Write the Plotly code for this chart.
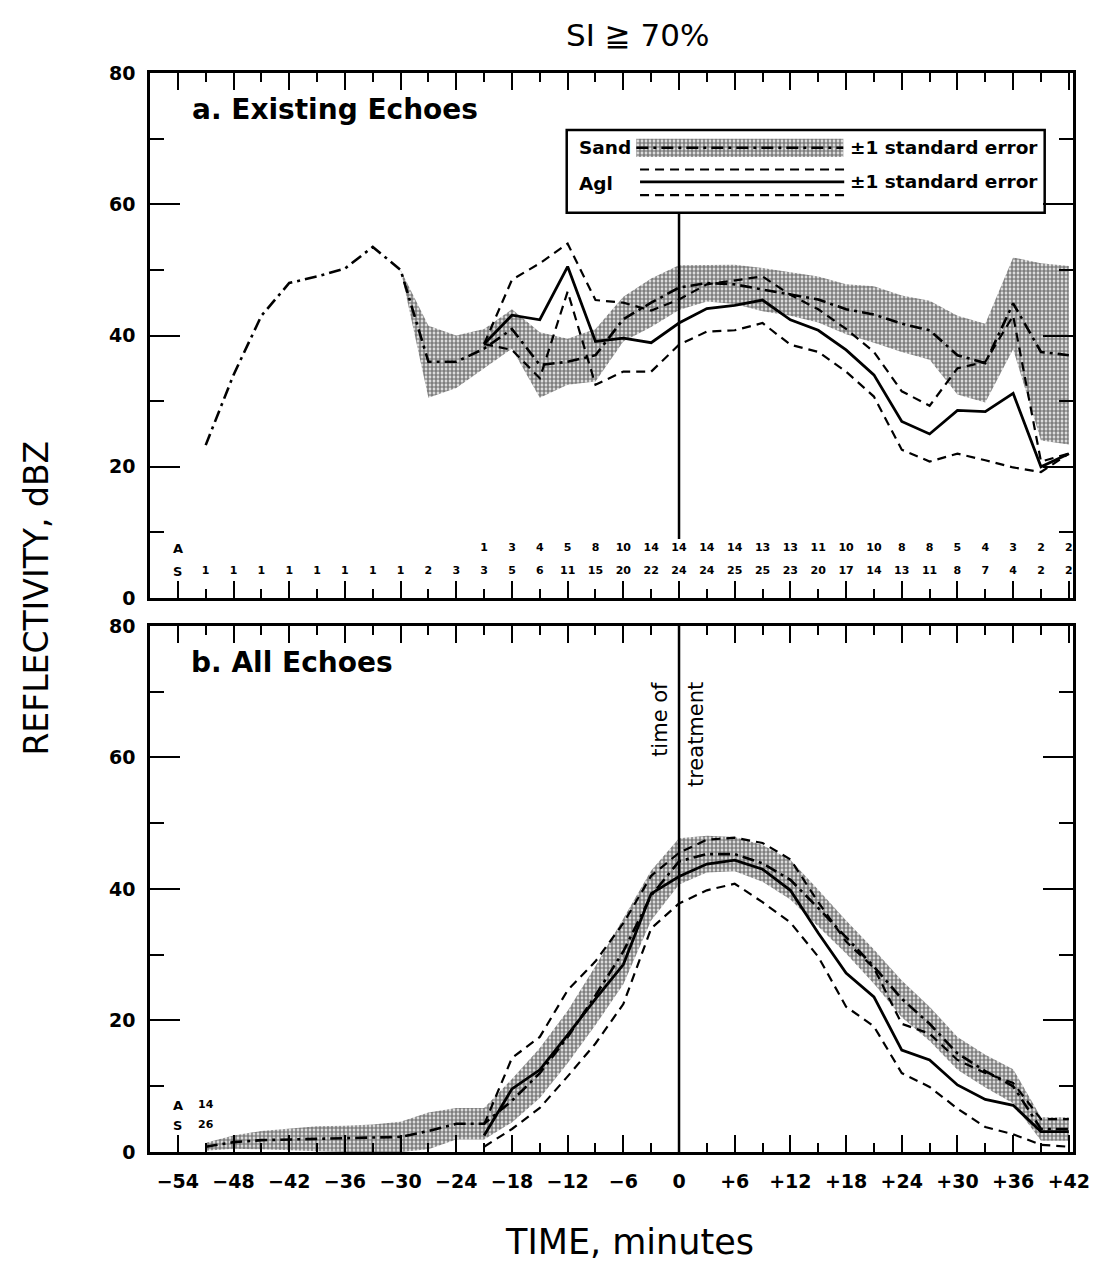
import plotly.graph_objects as go

# ---------------- data ----------------
T = [-51, -48, -45, -42, -39, -36, -33, -30, -27, -24, -21, -18, -15, -12, -9, -6,
     -3, 0, 3, 6, 9, 12, 15, 18, 21, 24, 27, 30, 33, 36, 39, 42]
T_AGL = [-21, -18, -15, -12, -9, -6, -3, 0, 3, 6, 9, 12, 15, 18, 21, 24, 27, 30, 33, 36, 39, 42]

S_counts = [1, 1, 1, 1, 1, 1, 1, 1, 2, 3, 3, 5, 6, 11, 15, 20, 22, 24, 24, 25, 25, 23,
            20, 17, 14, 13, 11, 8, 7, 4, 2, 2]
A_counts = [1, 3, 4, 5, 8, 10, 14, 14, 14, 14, 13, 13, 11, 10, 10, 8, 8, 5, 4, 3, 2, 2]

# panel a: existing echoes
sand_a = [23.3, 34, 43, 48, 49, 50.2, 53.5, 50, 36, 36, 38, 41, 35.5, 36, 37, 42.5,
          45, 47.3, 48, 47.8, 47, 46.3, 45.5, 44, 43.2, 41.8, 40.8, 37, 35.8, 44.9, 37.5, 37]
sand_a_se = [None, None, None, None, None, None, None, 0, 5.5, 4, 3, 3, 5, 3.5, 4, 3.4,
             3.7, 3.4, 2.8, 3, 3.3, 3.3, 3.5, 3.8, 4.3, 4.3, 4.5, 6, 6, 7, 13.5, 13.6]
agl_a = [38.7, 43.1, 42.4, 50.5, 39.1, 39.6, 38.9, 41.9, 44.1, 44.6, 45.4, 42.4, 40.8,
         37.8, 34.0, 26.9, 25.0, 28.6, 28.4, 31.2, 20.0, 22.0]
agl_a_lo = [38.7, 37.8, 33.5, 46.7, 32.5, 34.5, 34.5, 38.6, 40.6, 40.8, 41.9, 38.6, 37.5,
            34.5, 30.7, 22.6, 20.8, 22.0, 21.0, 19.9, 19.2, 22.0]
agl_a_hi = [38.7, 48.5, 51.0, 54.0, 45.4, 45.0, 43.8, 45.5, 47.8, 48.4, 49.0, 46.2, 44.0,
            41.0, 37.5, 31.5, 29.3, 35.0, 36.0, 43.0, 20.8, 22.0]

# panel b: all echoes
sand_b = [0.8, 1.5, 1.8, 1.9, 2.0, 2.0, 2.1, 2.3, 3.2, 4.3, 4.3, 7.8, 12.0, 17.5, 23.8,
          30.5, 39.0, 44.2, 45.3, 45.3, 43.9, 41.4, 37.1, 32.7, 28.2, 23.3, 19.5, 15.0,
          12.3, 10.0, 3.5, 3.5]
sand_b_se = [0.6, 1.0, 1.4, 1.7, 1.9, 2.0, 2.1, 2.3, 2.8, 2.4, 2.4, 3.3, 3.8, 4.0, 4.5,
             5.0, 3.8, 3.5, 2.8, 2.6, 2.8, 3.0, 2.8, 2.5, 2.6, 2.8, 2.6, 2.5, 2.5, 2.6,
             1.8, 1.8]
agl_b = [2.5, 9.6, 12.5, 17.8, 23.3, 28.5, 39.3, 41.9, 43.8, 44.4, 43.0, 39.8, 33.3,
         27.2, 23.6, 15.5, 14.0, 10.2, 8.0, 7.1, 3.1, 3.1]
agl_b_lo = [0.8, 3.5, 6.7, 11.5, 16.5, 22.5, 34.0, 37.8, 39.8, 40.8, 38.0, 34.9, 29.7,
            22.1, 19.1, 12.0, 9.9, 6.6, 3.8, 2.7, 1.1, 0.8]
agl_b_hi = [4.2, 14.3, 17.5, 24.6, 29.0, 34.8, 42.0, 45.5, 47.5, 47.8, 47.0, 44.5, 38.0,
            32.0, 28.0, 19.5, 18.0, 14.0, 12.0, 10.5, 5.0, 5.0]

total_A, total_S = 14, 26

x_major = list(range(-54, 43, 6))
x_minor = list(range(-51, 42, 6))
x_ticktext = [("\u2212" + str(-v)) if v < 0 else ("+" + str(v) if v > 0 else "0") for v in x_major]
y_major = [0, 20, 40, 60, 80]
y_minor = [10, 30, 50, 70]

# ---------------- styles ----------------
FONT = "DejaVu Sans"
BLACK = "black"
PATTERN = dict(shape=".", size=4, solidity=0.7, fgcolor=BLACK, bgcolor="rgba(0,0,0,0)")
SAND_DASH = "12px,5px,3px,5px"
AGL_DASH = "9px,6px"

fig = go.Figure()


def band(xs, mean, se, xa, ya):
    pts = [(x, m, s) for x, m, s in zip(xs, mean, se) if s is not None]
    bx = [p[0] for p in pts]
    hi = [p[1] + p[2] for p in pts]
    lo = [p[1] - p[2] for p in pts]
    fig.add_trace(go.Scatter(x=bx, y=hi, mode="lines", line=dict(width=0, color=BLACK),
                             xaxis=xa, yaxis=ya, showlegend=False, hoverinfo="skip"))
    fig.add_trace(go.Scatter(x=bx, y=lo, mode="lines", line=dict(width=0, color=BLACK),
                             fill="tonexty", fillcolor="rgba(0,0,0,0)", fillpattern=PATTERN,
                             xaxis=xa, yaxis=ya, showlegend=False, hoverinfo="skip"))


def lines(sand, lo, hi, agl, xa, ya):
    fig.add_trace(go.Scatter(x=T, y=sand, mode="lines", name="Sand",
                             line=dict(color=BLACK, width=2.6, dash=SAND_DASH),
                             xaxis=xa, yaxis=ya, showlegend=False))
    for arr in (lo, hi):
        fig.add_trace(go.Scatter(x=T_AGL, y=arr, mode="lines",
                                 line=dict(color=BLACK, width=2.2, dash=AGL_DASH),
                                 xaxis=xa, yaxis=ya, showlegend=False))
    fig.add_trace(go.Scatter(x=T_AGL, y=agl, mode="lines", name="Agl",
                             line=dict(color=BLACK, width=2.8),
                             xaxis=xa, yaxis=ya, showlegend=False))


band(T, sand_a, sand_a_se, "x", "y")
lines(sand_a, agl_a_lo, agl_a_hi, agl_a, "x", "y")
band(T, sand_b, sand_b_se, "x2", "y2")
lines(sand_b, agl_b_lo, agl_b_hi, agl_b, "x2", "y2")

# count rows
cnt_font = dict(family=FONT, size=11, color=BLACK, weight="bold")
fig.add_trace(go.Scatter(x=T_AGL, y=[7.6] * len(T_AGL), mode="text", text=[str(v) for v in A_counts],
                         textfont=cnt_font, xaxis="x", yaxis="y", showlegend=False, hoverinfo="skip"))
fig.add_trace(go.Scatter(x=T, y=[4.1] * len(T), mode="text", text=[str(v) for v in S_counts],
                         textfont=cnt_font, xaxis="x", yaxis="y", showlegend=False, hoverinfo="skip"))
fig.add_trace(go.Scatter(x=[-51, -51], y=[7.1, 4.1], mode="text", text=[str(total_A), str(total_S)],
                         textfont=cnt_font, xaxis="x2", yaxis="y2", showlegend=False, hoverinfo="skip"))

# legend swatches (panel a coordinates)
fig.add_trace(go.Scatter(x=[-4.6, 17.7, 17.7, -4.6, -4.6], y=[67.2, 67.2, 70.0, 70.0, 67.2],
                         mode="lines", line=dict(width=0, color=BLACK), fill="toself",
                         fillcolor="rgba(0,0,0,0)", fillpattern=PATTERN,
                         xaxis="x", yaxis="y", showlegend=False, hoverinfo="skip"))
fig.add_trace(go.Scatter(x=[-4.6, 17.7], y=[68.6, 68.6], mode="lines",
                         line=dict(color=BLACK, width=2.6, dash=SAND_DASH),
                         xaxis="x", yaxis="y", showlegend=False, hoverinfo="skip"))
for yy in (65.3, 61.4):
    fig.add_trace(go.Scatter(x=[-4.2, 17.8], y=[yy, yy], mode="lines",
                             line=dict(color=BLACK, width=2.2, dash=AGL_DASH),
                             xaxis="x", yaxis="y", showlegend=False, hoverinfo="skip"))
fig.add_trace(go.Scatter(x=[-4.2, 17.8], y=[63.4, 63.4], mode="lines",
                         line=dict(color=BLACK, width=2.8),
                         xaxis="x", yaxis="y", showlegend=False, hoverinfo="skip"))

# ---------------- axes ----------------
tickfont = dict(family=FONT, size=19, color=BLACK, weight="bold")
common_x = dict(range=[-57.0, 42.45], showgrid=False, zeroline=False, showline=True,
                linecolor=BLACK, linewidth=2.5, mirror="ticks", ticks="inside",
                tickmode="array", tickvals=x_major, ticklen=17, tickwidth=2, tickcolor=BLACK,
                minor=dict(tickmode="array", tickvals=x_minor, ticklen=9, tickwidth=2,
                           tickcolor=BLACK, ticks="inside"),
                tickfont=tickfont)
common_y = dict(range=[0, 80], showgrid=False, zeroline=False, showline=True,
                linecolor=BLACK, linewidth=2.5, mirror="ticks", ticks="inside",
                tickmode="array", tickvals=y_major, ticklen=30, tickwidth=2, tickcolor=BLACK,
                minor=dict(tickmode="array", tickvals=y_minor, ticklen=14, tickwidth=2,
                           tickcolor=BLACK, ticks="inside"),
                tickfont=tickfont, ticklabelstandoff=8)

# the page body adds an 8px margin, so the figure is sized and placed to compensate
fig.update_layout(
    width=1094, height=1256,
    margin=dict(l=142, r=25, t=65, b=112),
    paper_bgcolor="white", plot_bgcolor="white",
    showlegend=False,
    xaxis=dict(**common_x, anchor="y", domain=[0, 1], showticklabels=False),
    yaxis=dict(**common_y, anchor="x", domain=[0.5134, 1]),
    xaxis2=dict(**common_x, anchor="y2", domain=[0, 1], ticktext=x_ticktext,
                ticklabelstandoff=10),
    yaxis2=dict(**common_y, anchor="x2", domain=[0, 0.4875]),
)

# ---------------- shapes ----------------
fig.add_shape(type="line", xref="x", yref="y", x0=0, x1=0, y0=9, y1=58.7,
              line=dict(color=BLACK, width=2.5))
fig.add_shape(type="line", xref="x2", yref="y2", x0=0, x1=0, y0=0, y1=80,
              line=dict(color=BLACK, width=2.5))
fig.add_shape(type="rect", xref="x", yref="y", x0=-12.1, x1=39.4, y0=58.7, y1=71.3,
              line=dict(color=BLACK, width=2.5), fillcolor="rgba(0,0,0,0)")

# ---------------- text ----------------
def ann(text, x, y, xref, yref, size, bold=False, xanchor="center", yanchor="middle", angle=0):
    fig.add_annotation(text=text, x=x, y=y, xref=xref, yref=yref, showarrow=False,
                       xanchor=xanchor, yanchor=yanchor, textangle=angle,
                       font=dict(family=FONT, size=size, color=BLACK,
                                 weight="bold" if bold else "normal"))

ann("SI \u2267 70%", 0.5286, 1.035, "paper", "paper", 31)
ann("REFLECTIVITY, dBZ", -0.124, 0.5134, "paper", "paper", 33, angle=-90)
ann("TIME, minutes", 0.52, -0.0835, "paper", "paper", 35)

ann("a. Existing Echoes", -52.7, 74.4, "x", "y", 28, bold=True, xanchor="left")
ann("b. All Echoes", -52.8, 74.4, "x2", "y2", 28, bold=True, xanchor="left")

ann("Sand", -11.0, 68.6, "x", "y", 18.5, bold=True, xanchor="left")
ann("Agl", -11.0, 63.2, "x", "y", 18.5, bold=True, xanchor="left")
ann("\u00b11 standard error", 18.2, 68.6, "x", "y", 18.5, bold=True, xanchor="left")
ann("\u00b11 standard error", 18.2, 63.4, "x", "y", 18.5, bold=True, xanchor="left")

ann("A", -54, 7.6, "x", "y", 13, bold=True)
ann("S", -54, 4.1, "x", "y", 13, bold=True)
ann("A", -54, 7.1, "x2", "y2", 13, bold=True)
ann("S", -54, 4.1, "x2", "y2", 13, bold=True)

ann("time of", -2.0, 71.8, "x2", "y2", 21, yanchor="top", angle=-90)
ann("treatment", 1.9, 71.8, "x2", "y2", 21, yanchor="top", angle=-90)

fig.write_html("out.html")
